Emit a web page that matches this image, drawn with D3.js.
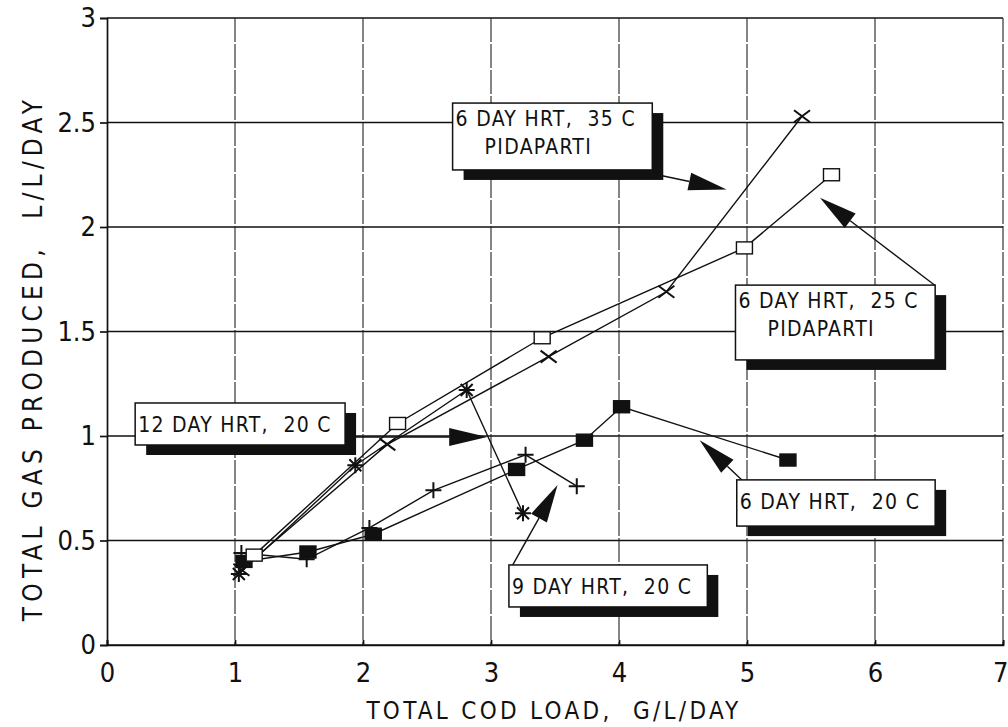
<!DOCTYPE html>
<html>
<head>
<meta charset="utf-8">
<script src="https://cdn.jsdelivr.net/npm/d3@7"></script>
<style>
    body { margin: 0; background: #fff; }
    text { font-family: "DejaVu Sans Condensed", "DejaVu Sans", sans-serif; fill: #111; }
    .note text { white-space: pre; }
</style>
</head>
<body>
<script>
// tick labels
const xTicks = [0, 1, 2, 3, 4, 5, 6, 7];
const yTicks = [0, 0.5, 1, 1.5, 2, 2.5, 3];
const yTickLabels = ['0', '0.5', '1', '1.5', '2', '2.5', '3'];

// 12 day HRT, 20 C
const hrt12X = [1.03, 1.94, 2.81, 3.25];
const hrt12Y = [0.34, 0.86, 1.22, 0.63];
// 6 day HRT, 35 C (Pidaparti)
const hrt6c35X = [1.05, 2.19, 3.45, 4.37, 5.43];
const hrt6c35Y = [0.36, 0.96, 1.38, 1.69, 2.53];
// 6 day HRT, 25 C (Pidaparti)
const hrt6c25X = [1.15, 2.27, 3.4, 4.98, 5.66];
const hrt6c25Y = [0.43, 1.06, 1.47, 1.9, 2.25];
// 6 day HRT, 20 C
const hrt6c20X = [1.07, 1.57, 2.08, 3.2, 3.73, 4.02, 5.32];
const hrt6c20Y = [0.4, 0.445, 0.53, 0.84, 0.98, 1.14, 0.885];
// 9 day HRT, 20 C
const hrt9X = [1.05, 1.56, 2.05, 2.55, 3.27, 3.67];
const hrt9Y = [0.44, 0.41, 0.56, 0.74, 0.91, 0.76];

const series = [
    {xs: hrt6c20X, ys: hrt6c20Y, marker: 'fillsq'},
    {xs: hrt9X, ys: hrt9Y, marker: 'plus'},
    {xs: hrt6c25X, ys: hrt6c25Y, marker: 'opensq'},
    {xs: hrt6c35X, ys: hrt6c35Y, marker: 'cross'},
    {xs: hrt12X, ys: hrt12Y, marker: 'star'}
];

// callout boxes, in data units
const notes = [
    {lines: ['12 DAY HRT,  20 C'], box: [0.22, 1.158, 1.86, 0.957], from: [1.94, 0.995], tip: [2.97, 0.995]},
    {lines: ['6 DAY HRT,  35 C', 'PIDAPARTI'], box: [2.70, 2.593, 4.26, 2.273], from: [4.30, 2.25], tip: [4.84, 2.18]},
    {lines: ['6 DAY HRT,  25 C', 'PIDAPARTI'], box: [4.91, 1.722, 6.47, 1.364], from: [6.47, 1.72], tip: [5.57, 2.14]},
    {lines: ['6 DAY HRT,  20 C'], box: [4.92, 0.79, 6.47, 0.569], from: [4.96, 0.79], tip: [4.63, 0.98]},
    {lines: ['9 DAY HRT,  20 C'], box: [3.14, 0.383, 4.69, 0.182], from: [3.17, 0.383], tip: [3.52, 0.766]}
];

const W = 1008, H = 727;
const mLeft = 107, mRight = 1003, mTop = 18, mBottom = 645;

const svg = d3.select('body')
    .append('svg')
    .attr('width', W)
    .attr('height', H);

const x = d3.scaleLinear().domain([0, 7]).range([mLeft, mRight]);
const y = d3.scaleLinear().domain([0, 3]).range([mBottom, mTop]);

// grid
svg.append('g')
    .selectAll('line')
    .data(yTicks)
    .enter()
    .append('line')
    .attr('x1', mLeft).attr('x2', mRight)
    .attr('y1', d => y(d)).attr('y2', d => y(d))
    .attr('stroke', '#111')
    .attr('stroke-width', 1.7);

svg.append('g')
    .selectAll('line')
    .data(xTicks.slice(1))
    .enter()
    .append('line')
    .attr('x1', d => x(d)).attr('x2', d => x(d))
    .attr('y1', mTop).attr('y2', mBottom)
    .attr('stroke', '#222')
    .attr('stroke-width', 1.1)
    .attr('stroke-dasharray', '24,2');

// axes
const yAxis = d3.axisLeft(y)
    .tickValues(yTicks)
    .tickFormat((d, i) => yTickLabels[i])
    .tickSize(7)
    .tickPadding(4);

const xAxis = d3.axisBottom(x)
    .tickValues(xTicks)
    .tickFormat(d3.format('d'))
    .tickSize(-5)
    .tickPadding(18);

const gy = svg.append('g')
    .attr('transform', 'translate(' + mLeft + ',0)')
    .call(yAxis);

const gx = svg.append('g')
    .attr('transform', 'translate(0,' + mBottom + ')')
    .call(xAxis);

[gx, gy].forEach(g => {
    g.selectAll('path, line').attr('stroke', '#111').attr('stroke-width', 1.7);
    g.selectAll('text')
        .attr('font-size', 27)
        .style('font-family', '"DejaVu Sans Condensed", "DejaVu Sans", sans-serif')
        .attr('fill', '#111');
});

// last x label sits against the edge
gx.selectAll('.tick text')
    .filter(d => d === 7)
    .attr('text-anchor', 'end')
    .attr('dx', 5);

svg.append('text')
    .attr('x', (mLeft + mRight) / 2 - 1)
    .attr('y', 719)
    .attr('text-anchor', 'middle')
    .attr('font-size', 24)
    .attr('letter-spacing', 3.3)
    .style('white-space', 'pre')
    .text('TOTAL COD LOAD,  G/L/DAY');

svg.append('text')
    .attr('transform', 'translate(42,358) rotate(-90)')
    .attr('text-anchor', 'middle')
    .attr('font-size', 26)
    .attr('letter-spacing', 5.2)
    .style('white-space', 'pre')
    .text('TOTAL GAS PRODUCED,  L/L/DAY');

// series lines
const line = d3.line()
    .x(d => x(d[0]))
    .y(d => y(d[1]));

series.forEach(s => {
    const pts = s.xs.map((v, i) => [v, s.ys[i]]);
    svg.append('path')
        .datum(pts)
        .attr('d', line)
        .attr('fill', 'none')
        .attr('stroke', '#111')
        .attr('stroke-width', 1.4);
});

// markers
const markerPaths = {
    cross: 'M-8,-6L8,6M-8,6L8,-6',
    plus: 'M-8,0H8M0,-8V8',
    star: 'M-8,0H8M0,-8V8M-6,-6L6,6M-6,6L6,-6'
};

series.forEach(s => {
    const pts = s.xs.map((v, i) => [v, s.ys[i]]);
    const g = svg.append('g');
    const sel = g.selectAll('.pt')
        .data(pts)
        .enter();
    if (s.marker === 'fillsq' || s.marker === 'opensq') {
        sel.append('rect')
            .attr('x', d => x(d[0]) - 8)
            .attr('y', d => y(d[1]) - 6)
            .attr('width', 16)
            .attr('height', 12)
            .attr('fill', s.marker === 'fillsq' ? '#111' : '#fff')
            .attr('stroke', '#111')
            .attr('stroke-width', 1.4);
    } else {
        sel.append('path')
            .attr('transform', d => 'translate(' + x(d[0]) + ',' + y(d[1]) + ')')
            .attr('d', markerPaths[s.marker])
            .attr('fill', 'none')
            .attr('stroke', '#111')
            .attr('stroke-width', 2);
    }
});

// callouts
notes.forEach(n => {
    const g = svg.append('g').attr('class', 'note');
    const bx0 = x(n.box[0]), by0 = y(n.box[1]), bx1 = x(n.box[2]), by1 = y(n.box[3]);
    const fx = x(n.from[0]), fy = y(n.from[1]), tx = x(n.tip[0]), ty = y(n.tip[1]);

    const ang = Math.atan2(ty - fy, tx - fx);
    const len = 38, hw = 9;
    const bx = tx - len * Math.cos(ang), by = ty - len * Math.sin(ang);

    g.append('line')
        .attr('x1', fx).attr('y1', fy)
        .attr('x2', bx).attr('y2', by)
        .attr('stroke', '#111')
        .attr('stroke-width', 1.4);

    g.append('path')
        .attr('d', 'M' + tx + ',' + ty +
            'L' + (bx - hw * Math.sin(ang)) + ',' + (by + hw * Math.cos(ang)) +
            'L' + (bx + hw * Math.sin(ang)) + ',' + (by - hw * Math.cos(ang)) + 'Z')
        .attr('fill', '#111');

    g.append('rect')
        .attr('x', bx0 + 11).attr('y', by0 + 10)
        .attr('width', bx1 - bx0).attr('height', by1 - by0)
        .attr('fill', '#111');

    g.append('rect')
        .attr('x', bx0).attr('y', by0)
        .attr('width', bx1 - bx0).attr('height', by1 - by0)
        .attr('fill', '#fff')
        .attr('stroke', '#111')
        .attr('stroke-width', 1.5);

    const twoLines = n.lines.length > 1;
    g.selectAll('text')
        .data(n.lines)
        .enter()
        .append('text')
        .attr('x', (d, i) => bx0 + (i === 0 ? 3 : 32))
        .attr('y', (d, i) => by0 + (twoLines ? 23 + i * 28 : 29))
        .attr('font-size', 21)
        .attr('letter-spacing', 1.3)
        .text(d => d);
});
</script>
</body>
</html>
